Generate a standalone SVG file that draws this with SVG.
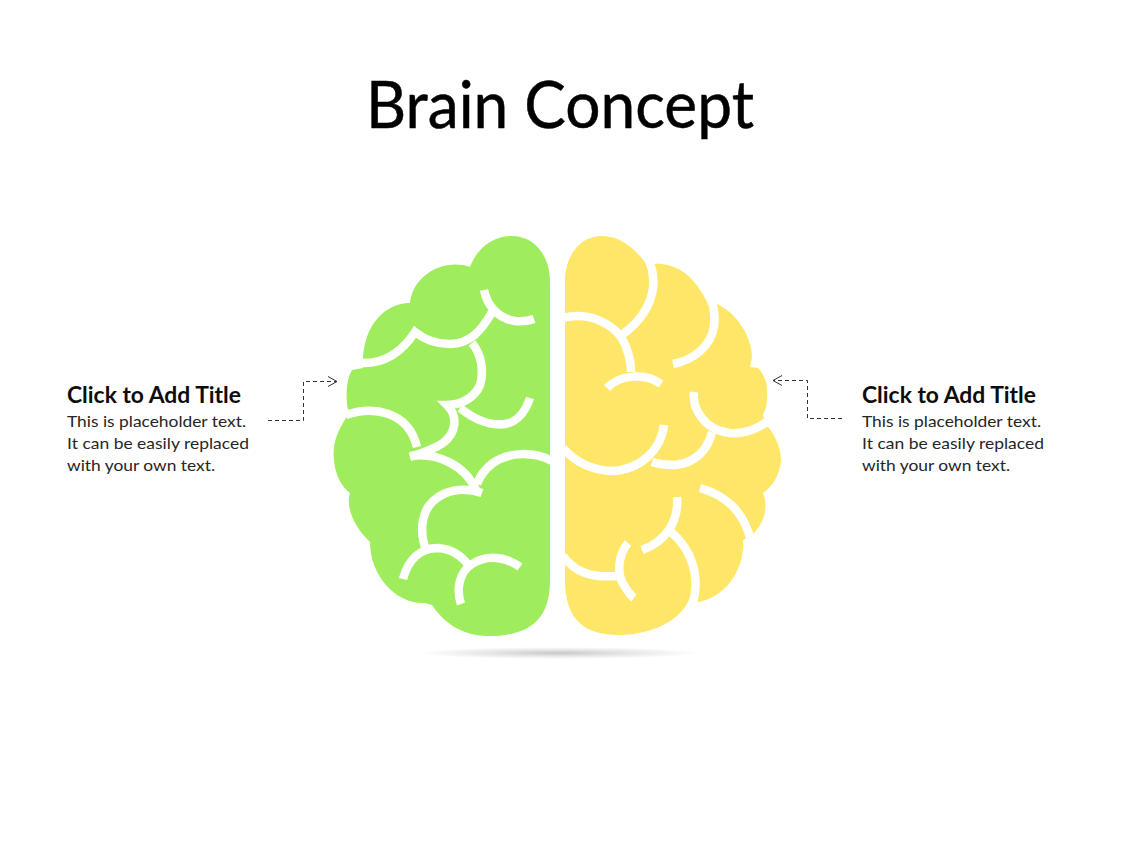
<svg xmlns="http://www.w3.org/2000/svg" width="1128" height="846" viewBox="0 0 1128 846">
<style>
text{font-family:Lato,"Liberation Sans",sans-serif;fill:#262626}
.title{font-size:65px;fill:#000;stroke:#000;stroke-width:.5}
.h{font-size:22px;font-weight:700;fill:#0d0d0d}
.b{font-size:16px}
.fold{fill:none;stroke:#fff;stroke-width:8.5}
.conn{fill:none;stroke:#333;stroke-width:1;stroke-dasharray:4 3}
</style>
<defs>
<marker id="open" markerWidth="12" markerHeight="12" refX="10" refY="5.500" orient="auto-start-reverse" markerUnits="userSpaceOnUse"><path d="M1 0.500L10 5.500L1 10.500" fill="none" stroke="#333" stroke-width="1"/></marker>
<radialGradient id="sh"><stop offset="0" stop-color="#c8c8c8"/><stop offset="0.5" stop-color="#e6e6e6"/><stop offset="1" stop-color="#fff"/></radialGradient>
</defs>
<rect width="1128" height="846" fill="#fff"/>
<g id="title"><text class="title" x="366" y="128" textLength="388" lengthAdjust="spacingAndGlyphs">Brain Concept</text></g>
<ellipse id="shadow" cx="558" cy="653" rx="140" ry="6" fill="url(#sh)"/>
<g id="left-hemisphere">
<path fill="#9fed5c" d="M550 282C550 255 534 236 512 236C493 236 477 248 470 267C444 258 413 275 410 303C385 303 364 325 363 360L363 368L352 370C346 380 345 400 349 414C337 430 332 445 334 460C335 475 342 487 350 493C346 505 352 525 370 542C370 575 395 604 425 603L432 605C445 625 465 636 488 636C530 636 550 620 550 580Z"/>
<g class="fold">
<path d="M361 363C385 364 402 352 415 332C425 340 435 344 450 344C470 344 482 330 492 312"/>
<path d="M484 290C487 305 497 318 515 321C522 322 528 321 534 319"/>
<path d="M472 343C482 355 484 372 480 385C475 397 462 405 447 405C458 416 457 432 443 443C434 449 425 452 410 457"/>
<path d="M346 415C372 406 408 410 417 447"/>
<path d="M460 408C475 420 490 426 505 424C518 422 526 410 530 398"/>
<path d="M410 456C437 452 465 465 476 490"/>
<path d="M552 461C535 452 510 451 493 463C485 469 480 476 477 484"/>
<path d="M482 493C455 484 428 495 423 520C421 532 422 540 426 549"/>
<path d="M403 579C408 560 420 548 438 548C452 549 462 556 469 566"/>
<path d="M461 604C456 590 459 572 472 564C488 554 506 557 520 567"/>
</g>
</g>
<g id="right-hemisphere">
<path fill="#fee768" d="M565 282C565 255 580 236 602 236C620 236 634 248 645 262L653 264C672 262 690 273 700 290C706 298 708 305 708 305L717 304C735 312 752 335 752 358L750 367L758 368C765 375 768 385 767 395C767 405 766 410 763 414L765 424C772 430 781 445 781 460C780 475 772 487 763 493C768 505 766 522 752 535L743 540C745 570 725 598 697 602L690 598C680 622 650 635 618 635C585 635 565 620 565 580Z"/>
<g class="fold">
<path d="M563 318C590 311 620 325 627 350C630 358 631 364 631 372"/>
<path d="M638 243C648 255 655 270 653 288C651 305 640 322 623 334"/>
<path d="M704 286C712 298 716 312 714 326C711 347 693 360 673 364"/>
<path d="M607 388C620 374 646 373 661 384"/>
<path d="M694 392C692 410 705 430 730 433C745 434 757 430 769 420"/>
<path d="M712 432C708 450 695 463 675 465C665 465 658 464 652 462"/>
<path d="M664 425C661 450 640 470 612 471C590 470 575 462 563 448"/>
<path d="M700 488C725 495 745 512 751 542"/>
<path d="M677 497C679 522 665 542 642 550"/>
<path d="M671 532C690 548 702 575 692 606"/>
<path d="M628 543C618 555 616 575 625 587C627 590 630 595 634 598"/>
<path d="M563 556C575 572 590 578 618 576"/>
</g>
</g>
<g id="connectors">
<path class="conn" d="M268 420.500H303.500V381.500H337" marker-end="url(#open)"/>
<path class="conn" d="M842 418.500H807.500V380.500H773" marker-end="url(#open)"/>
</g>
<g id="left-label">
<text class="h" x="67" y="403" textLength="174" lengthAdjust="spacingAndGlyphs">Click to Add Title</text>
<text class="b" x="67" y="427" textLength="179" lengthAdjust="spacingAndGlyphs">This is placeholder text.</text>
<text class="b" x="67" y="449" textLength="182" lengthAdjust="spacingAndGlyphs">It can be easily replaced</text>
<text class="b" x="67" y="471" textLength="148" lengthAdjust="spacingAndGlyphs">with your own text.</text>
</g>
<g id="right-label">
<text class="h" x="862" y="403" textLength="174" lengthAdjust="spacingAndGlyphs">Click to Add Title</text>
<text class="b" x="862" y="427" textLength="179" lengthAdjust="spacingAndGlyphs">This is placeholder text.</text>
<text class="b" x="862" y="449" textLength="182" lengthAdjust="spacingAndGlyphs">It can be easily replaced</text>
<text class="b" x="862" y="471" textLength="148" lengthAdjust="spacingAndGlyphs">with your own text.</text>
</g>
</svg>
